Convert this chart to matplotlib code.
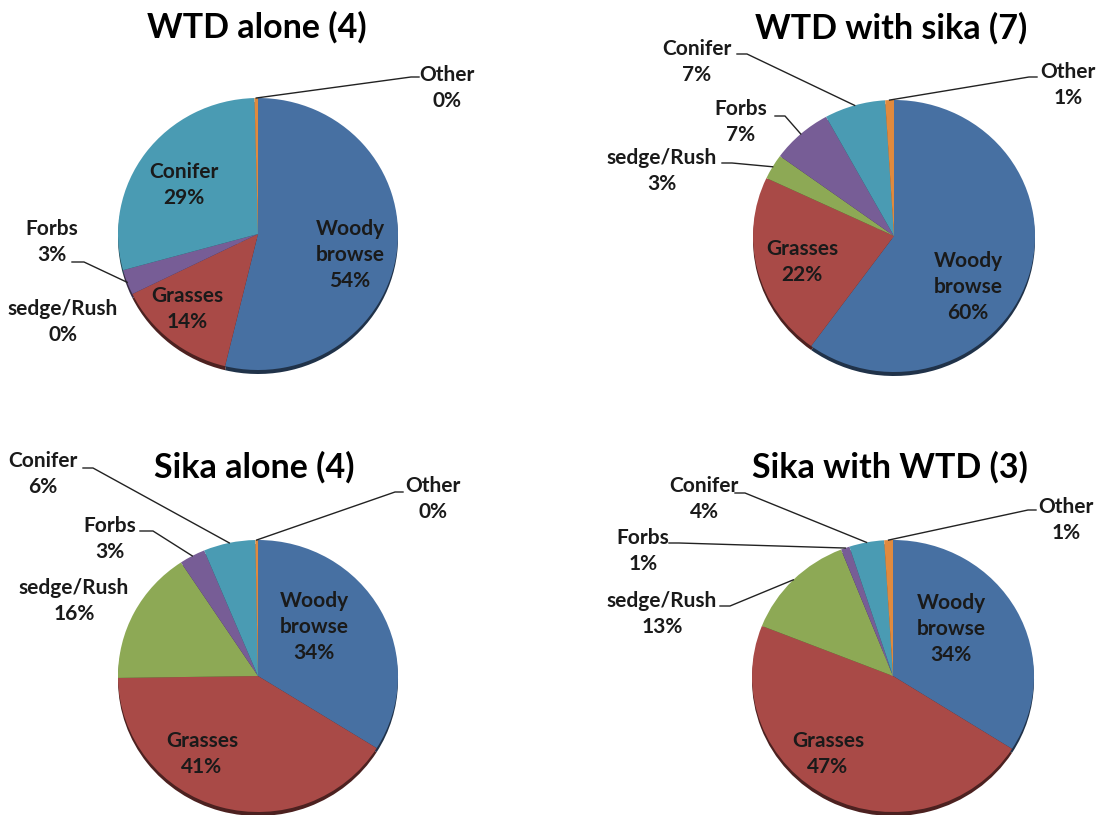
import matplotlib.pyplot as plt
import matplotlib.colors as mcolors
import numpy as np

plt.rcParams['font.family'] = ['Lato', 'DejaVu Sans']

W, H = 1100, 815

categories = ["Woody\nbrowse", "Grasses", "sedge/Rush", "Forbs", "Conifer", "Other"]
colors = ["#4770a2", "#a94a47", "#8da955", "#775d96", "#4a9bb3", "#e08a3e"]

titles = ["WTD alone (4)", "WTD with sika (7)", "Sika alone (4)", "Sika with WTD (3)"]
wtd_alone = [54, 14, 0, 3, 29, 0.4]
wtd_with_sika = [60, 22, 3, 7, 7, 1]
sika_alone = [34, 41, 16, 3, 6, 0.3]
sika_with_wtd = [34, 47, 13, 1, 4, 1]

# layout of each panel in pixels (y from the top)
panels = [
    dict(values=wtd_alone, title=titles[0], title_xy=(257, 27),
         center=(258, 234), rx=140, ry=136,
         text_xy=[(350, 255), (187, 309), (63, 322), (52, 242), (184, 185), (447, 88)],
         leaders={3: (72, 262, 12), 5: (419, 77, -8)}),
    dict(values=wtd_with_sika, title=titles[1], title_xy=(891, 28),
         center=(894, 236), rx=141, ry=136,
         text_xy=[(968, 287), (802, 262), (662, 171), (741, 122), (697, 62), (1068, 85)],
         leaders={2: (722, 163, 10), 3: (775, 116, 10), 4: (737, 54, 10), 5: (1037, 77, -8)}),
    dict(values=sika_alone, title=titles[2], title_xy=(254, 467),
         center=(258, 676), rx=140, ry=136,
         text_xy=[(314, 627), (202, 754), (74, 601), (110, 539), (43, 474), (433, 499)],
         leaders={3: (140, 531, 13), 4: (83, 468, 10), 5: (403, 492, -8)}),
    dict(values=sika_with_wtd, title=titles[3], title_xy=(890, 467),
         center=(893, 676), rx=141, ry=136,
         text_xy=[(951, 629), (828, 754), (662, 614), (643, 551), (704, 499), (1066, 520)],
         leaders={2: (720, 606, 10), 3: (669, 543, 10), 4: (735, 493, 10), 5: (1036, 510, -8)}),
]

fig = plt.figure(figsize=(W / 100, H / 100), dpi=100)


def pie_axes(cx, cy, rx, ry):
    ax = fig.add_axes([(cx - rx) / W, (H - cy - ry) / H, 2 * rx / W, 2 * ry / H])
    ax.set_axis_off()
    return ax


def darker(c, f=0.45):
    r, g, b = mcolors.to_rgb(c)
    return (r * f, g * f, b * f)


for p in panels:
    cx, cy = p["center"]
    # dark side of the pie, shifted down a few pixels
    for shift, cols in [(4, [darker(c) for c in colors]), (0, colors)]:
        ax = pie_axes(cx, cy + shift, p["rx"], p["ry"])
        ax.pie(p["values"], colors=cols, startangle=90, counterclock=False,
               radius=1, wedgeprops=dict(linewidth=0))
        ax.set_xlim(-1, 1)
        ax.set_ylim(-1, 1)
        ax.set_aspect('auto')

# overlay for titles, labels and leader lines
ov = fig.add_axes([0, 0, 1, 1])
ov.set_xlim(0, W)
ov.set_ylim(H, 0)
ov.set_axis_off()
ov.patch.set_alpha(0)

for p in panels:
    cx, cy = p["center"]
    vals = np.array(p["values"], dtype=float)
    total = vals.sum()
    cum = np.cumsum(vals) - vals / 2
    ov.text(*p["title_xy"], p["title"], ha='center', va='center',
            fontsize=24.5, fontweight='bold', color='black')
    for i, (name, v) in enumerate(zip(categories, vals)):
        tx, ty = p["text_xy"][i]
        ov.text(tx, ty, f"{name}\n{v:.0f}%", ha='center', va='center',
                fontsize=15, fontweight='bold', color='#1a1a1a', linespacing=1.4)
        if i in p["leaders"]:
            x0, y0, dx = p["leaders"][i]
            theta = 2 * np.pi * cum[i] / total
            ex = cx + p["rx"] * np.sin(theta)
            ey = cy - p["ry"] * np.cos(theta)
            ov.plot([x0, x0 + dx, ex], [y0, y0, ey], color='#222222', lw=1.0)

fig.savefig("out.png", dpi=100)
